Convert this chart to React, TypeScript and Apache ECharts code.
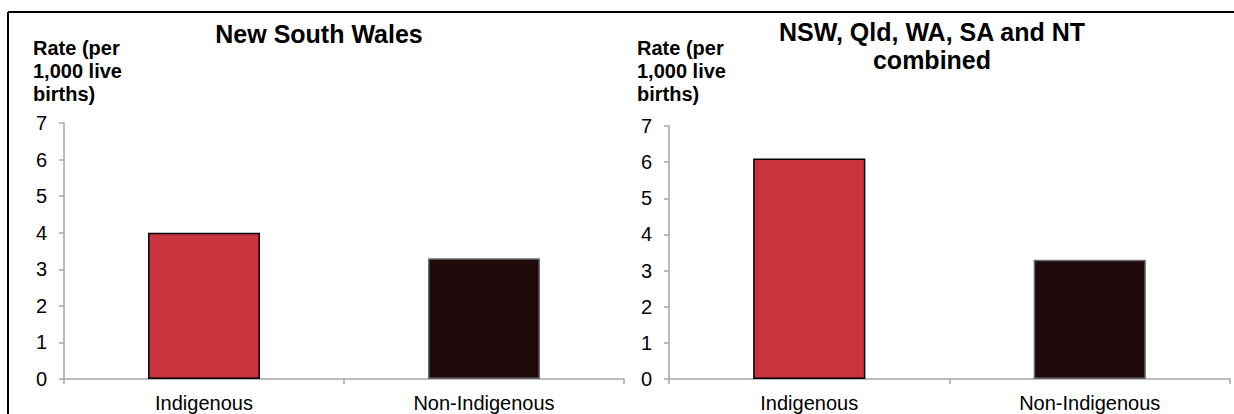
import React, { useEffect, useRef } from "react";
import * as echarts from "echarts";

const categories = ["Indigenous", "Non-Indigenous"];
const nswValues = [4.0, 3.3];
const combinedValues = [6.1, 3.3];
const panelTitles = ["New South Wales", "NSW, Qld, WA, SA and NT\ncombined"];
const yAxisTitle = "Rate (per\n1,000 live\nbirths)";
const yMin = 0;
const yMax = 7;
const yInterval = 1;

const barColors = ["#C9333D", "#1E090B"];
const barBorders = ["#000000", "#6b6b6b"];
const FONT = "'Liberation Sans', Arial, Helvetica, sans-serif";
const AXIS_GRAY = "#a6a6a6";

export default function App() {
  const ref = useRef<HTMLDivElement>(null);

  useEffect(() => {
    if (!ref.current) return;
    const chart = echarts.init(ref.current, undefined, { renderer: "svg" });

    const grids = [
      { left: 64, top: 123, width: 560, height: 256 },
      { left: 669, top: 126, width: 561, height: 253 },
    ];

    const xAxes = grids.map((_, i) => ({
      type: "category" as const,
      gridIndex: i,
      data: categories,
      axisLine: { show: true, lineStyle: { color: AXIS_GRAY, width: 1.5 } },
      axisTick: { show: true, length: 5, lineStyle: { color: AXIS_GRAY, width: 1.5 } },
      axisLabel: { color: "#000", fontSize: 20, fontFamily: FONT, margin: 14 },
    }));

    const yAxes = grids.map((_, i) => ({
      type: "value" as const,
      gridIndex: i,
      min: yMin,
      max: yMax,
      interval: yInterval,
      axisLine: { show: true, lineStyle: { color: AXIS_GRAY, width: 1.5 } },
      axisTick: { show: true, length: 5, lineStyle: { color: AXIS_GRAY, width: 1.5 } },
      splitLine: { show: false },
      axisLabel: { color: "#000", fontSize: 20, fontFamily: FONT, margin: 17 },
    }));

    const makeSeries = (values: number[], idx: number) => ({
      type: "bar" as const,
      xAxisIndex: idx,
      yAxisIndex: idx,
      barWidth: "40%",
      data: values.map((v, i) => ({
        value: v,
        itemStyle: { color: barColors[i], borderColor: barBorders[i], borderWidth: 1.5 },
      })),
    });

    chart.setOption({
      animation: false,
      backgroundColor: "#ffffff",
      grid: grids,
      xAxis: xAxes,
      yAxis: yAxes,
      series: [makeSeries(nswValues, 0), makeSeries(combinedValues, 1)],
      graphic: [
        { type: "line", shape: { x1: 8, y1: 12, x2: 1234, y2: 12 }, style: { stroke: "#000", lineWidth: 2 } },
        { type: "line", shape: { x1: 8, y1: 12, x2: 8, y2: 414 }, style: { stroke: "#000", lineWidth: 2 } },
        {
          type: "text", x: 319, y: 34,
          style: { text: panelTitles[0], font: `bold 25px ${FONT}`, fill: "#000", align: "center", verticalAlign: "middle" },
        },
        {
          type: "text", x: 932, y: 46,
          style: { text: panelTitles[1], font: `bold 25px ${FONT}`, fill: "#000", align: "center", verticalAlign: "middle", lineHeight: 28 },
        },
        {
          type: "text", x: 33, y: 36,
          style: { text: yAxisTitle, font: `bold 20px ${FONT}`, fill: "#000", align: "left", verticalAlign: "top", lineHeight: 23 },
        },
        {
          type: "text", x: 637, y: 36,
          style: { text: yAxisTitle, font: `bold 20px ${FONT}`, fill: "#000", align: "left", verticalAlign: "top", lineHeight: 23 },
        },
      ],
    });

    return () => chart.dispose();
  }, []);

  return (
    <div
      ref={ref}
      style={{ position: "absolute", left: 0, top: 0, width: 1234, height: 414 }}
    />
  );
}
